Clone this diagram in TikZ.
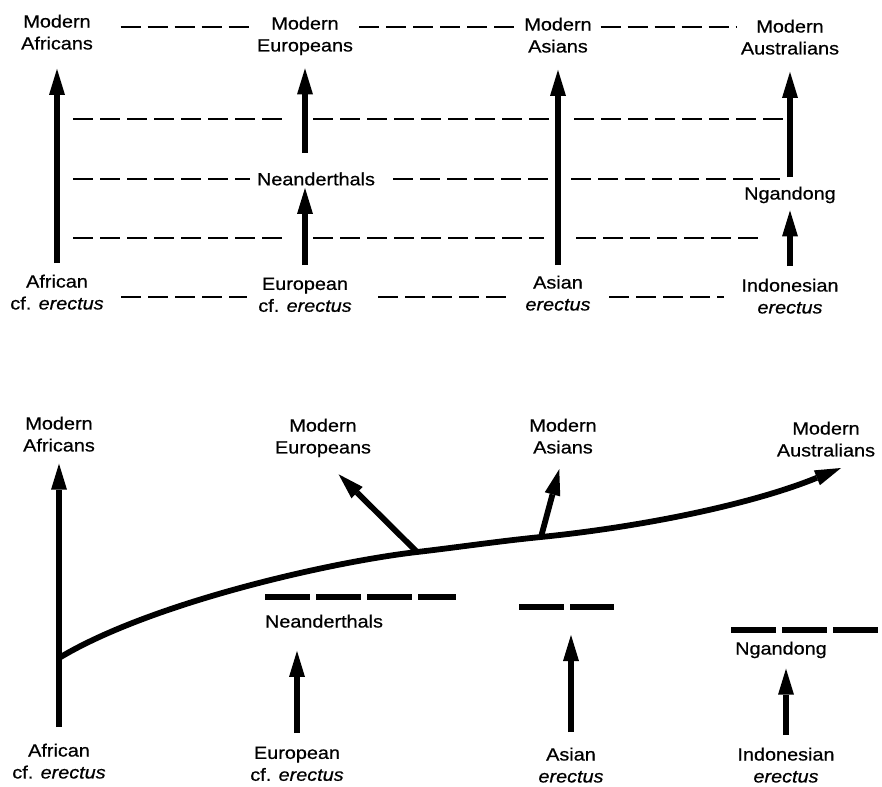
\documentclass[tikz,border=0pt]{standalone}
\usepackage{fontspec}
\setmainfont{Liberation Sans}[FakeStretch=1.12,FakeBold=0.6]
\usetikzlibrary{arrows.meta}

\begin{document}
\begin{tikzpicture}[x=0.25mm, y=-0.25mm,
    lbl/.style={anchor=north, align=center, inner sep=1pt, font=\fontsize{12.6}{15.6}\selectfont},
    arr/.style={line width=1.45mm, -{Triangle[length=6.5mm,width=4mm,line width=0pt]}},
    lvl/.style={line width=0.45mm, dash pattern=on 5mm off 1.75mm},
    bar/.style={line width=1.5mm, dash pattern=on 11.25mm off 1.5mm}]
                      \useasboundingbox (0,0) rectangle (882,786);

                      \node[lbl] (mafr) at (57,13) {Modern\\Africans};
                      \node[lbl] (meur) at (305,15) {Modern\\Europeans};
                      \node[lbl] (masi) at (558,16) {Modern\\Asians};
                      \node[lbl] (maus) at (790,18) {Modern\\Australians};
                      \node[lbl,anchor=center] (nea) at (316,179) {Neanderthals};
                      \node[lbl] (nga) at (790,185) {Ngandong};
                      \node[lbl] (afr) at (57,273) {African\\cf. \textit{erectus}};
                      \node[lbl] (eur) at (305,276) {European\\cf. \textit{erectus}};
                      \node[lbl] (asi) at (558,274) {Asian\\\textit{erectus}};
                      \node[lbl] (ind) at (790,277) {Indonesian\\\textit{erectus}};

                      \coordinate (lv0) at (0,27);
                      \coordinate (lv4) at (0,297);
                      \draw[lvl,shorten <=6.5mm] (mafr.east |- lv0) -- (meur.west |- lv0);
                      \draw[lvl,shorten <=1.2mm,shorten >=1.75mm] (meur.east |- lv0) -- (masi.west |- lv0);
                      \draw[lvl,shorten <=1.8mm,shorten >=0.9mm] (masi.east |- lv0) -- (maus.west |- lv0);
                      \foreach \y/\a/\b/\e in {119/551/574/784, 238/544/576/761}{
                        \draw[lvl] (73,\y) -- (283,\y);
                        \draw[lvl] (313,\y) -- (\a,\y);
                        \draw[lvl] (\b,\y) -- (\e,\y);
                      }
                      \draw[lvl,shorten >=1.4mm] (73,179) -- (nea);
                      \draw[lvl,shorten <=4.2mm] (nea) -- (551,179);
                      \draw[lvl] (571,179) -- (784,179);
                      \draw[lvl,shorten <=4mm,shorten >=2.5mm] (afr.east |- lv4) -- (eur.west |- lv4);
                      \draw[lvl,shorten <=6.2mm,shorten >=2.75mm] (eur.east |- lv4) -- (asi.west |- lv4);
                      \draw[lvl,shorten <=4.25mm,shorten >=4mm] (asi.east |- lv4) -- (ind.west |- lv4);

                      \draw[arr,shorten <=2.5mm,shorten >=4.4mm] (afr) -- (mafr);
                      \draw[arr,shorten <=2.75mm,shorten >=0.2mm] (eur.north) -- (eur.north |- nea.south);
                      \draw[arr,shorten <=4.5mm,shorten >=2.9mm] (meur |- nea.north) -- (meur);
                      \draw[arr,shorten <=2.25mm,shorten >=3.9mm] (asi) -- (masi);
                      \draw[arr,shorten <=2mm,shorten >=3.9mm] (nga) -- (maus);
                      \draw[arr,shorten <=2.75mm,shorten >=1.4mm] (ind) -- (nga);

                      \node[lbl] (bmafr) at (59,415) {Modern\\Africans};
                      \node[lbl] (bmeur) at (323,417) {Modern\\Europeans};
                      \node[lbl] (bmasi) at (563,417) {Modern\\Asians};
                      \node[lbl] (bmaus) at (826,420) {Modern\\Australians};
                      \node[lbl] (bnea) at (324,613) {Neanderthals};
                      \node[lbl] (bnga) at (781,640) {Ngandong};
                      \node[lbl] (bafr) at (59,742) {African\\cf. \textit{erectus}};
                      \node[lbl] (beur) at (297,745) {European\\cf. \textit{erectus}};
                      \node[lbl] (basi) at (571,746) {Asian\\\textit{erectus}};
                      \node[lbl] (bind) at (786,746) {Indonesian\\\textit{erectus}};

                      \coordinate (afbr) at (59,658);
                      \coordinate (eubr) at (417,552);
                      \coordinate (asbr) at (541,537);
                      \coordinate (ausend) at (841,468);

                      \draw[bar] (265,597) -- (456,597);
                      \draw[bar] (519,607) -- coordinate (asibar) (614,607);
                      \draw[bar] (731,630) -- (881,630);

                      \draw[arr,shorten <=3.75mm,shorten >=2.6mm] (bafr) -- (bmafr);
                      \draw[arr] (afbr) .. controls (150,603) and (330,562) .. (eubr)
                        .. controls (460,547) and (500,541) .. (asbr)
                        .. controls (640,527) and (750,505) .. (ausend);
                      \draw[arr,shorten >=5.5mm] (eubr) -- (bmeur.south);
                      \draw[arr,shorten >=3.6mm] (asbr) -- (bmasi.south);
                      \draw[arr,shorten <=3mm,shorten >=5.4mm] (beur.north) -- (beur.north |- bnea.south);
                      \draw[arr,shorten <=3.5mm,shorten >=7mm] (basi.north) -- (basi.north |- asibar);
                      \draw[arr,shorten <=2.75mm,shorten >=2.2mm] (bind.north) -- (bind.north |- bnga.south);
                    \end{tikzpicture}
\end{document}
